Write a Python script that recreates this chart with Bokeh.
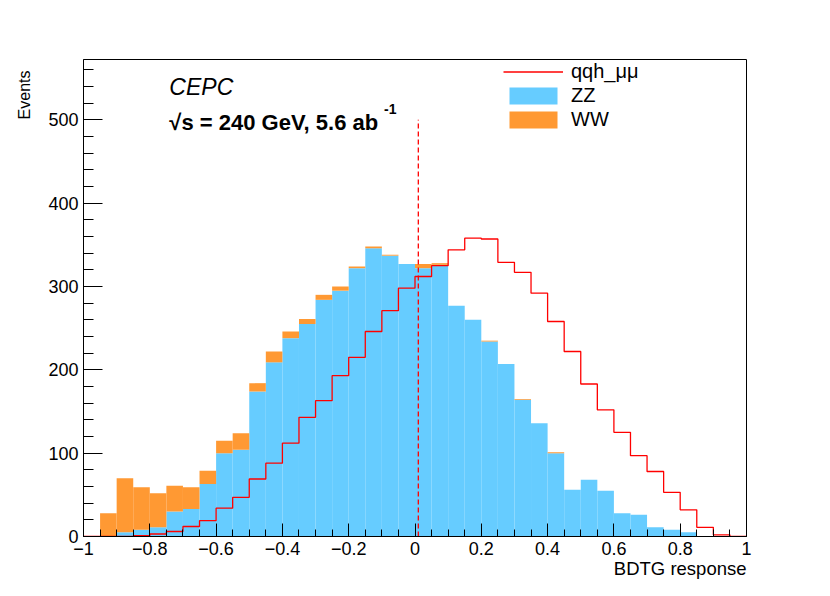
import numpy as np
from bokeh.plotting import figure
from bokeh.models import Label, Legend, LegendItem, FixedTicker, Range1d, Title
from bokeh.embed import file_html
from bokeh.resources import INLINE

# ---------------- data ----------------
x_min, x_max, n_bins = -1.0, 1.0, 40

zz = [0, 0, 5, 8, 11, 30, 33, 63, 100, 104,
      174, 209, 238, 255, 284, 295, 322, 346, 337, 327,
      322, 326, 277, 260, 234, 207, 164, 136, 100, 56,
      68, 55, 28, 26, 11, 8, 5, 0, 0, 0]
ww = [0, 28, 65, 51, 41, 31, 26, 16, 15, 20,
      10, 13, 8, 6, 6, 5, 2, 2, 1, 0,
      5, 2, 0, 0, 1, 0, 1, 0, 1, 0,
      0, 0, 0, 0, 0, 0, 0, 0, 0, 0]
qqh = [0, 0, 0, 1, 3, 6, 12, 19, 34, 47,
       69, 88, 112, 143, 163, 193, 215, 246, 271, 298,
       312, 325, 344, 358, 357, 329, 317, 292, 258, 222,
       183, 152, 125, 97, 78, 53, 32, 11, 2, 0]
cut_value = 0.01
cut_top = 500

x_tick_values = [-1, -0.8, -0.6, -0.4, -0.2, 0, 0.2, 0.4, 0.6, 0.8, 1]
x_tick_labels = ["\u22121", "\u22120.8", "\u22120.6", "\u22120.4", "\u22120.2",
                 "0", "0.2", "0.4", "0.6", "0.8", "1"]
x_minor_step = 0.05
y_tick_values = [0, 100, 200, 300, 400, 500]
y_minor_step = 20
y_max = 572.4

FONT = "Liberation Sans"

# ---------------- figure ----------------
p = figure(width=814, height=580, output_backend="svg", toolbar_location=None,
           x_range=Range1d(x_min, x_max), y_range=Range1d(0, y_max),
           min_border_left=82, min_border_right=68,
           min_border_top=59, min_border_bottom=44)
p.grid.visible = False
p.outline_line_color = "black"
p.outline_line_width = 1
p.background_fill_color = "white"
p.border_fill_color = "white"

edges = np.linspace(x_min, x_max, n_bins + 1)
zz_a = np.array(zz, dtype=float)
ww_a = np.array(ww, dtype=float)
qqh_a = np.array(qqh, dtype=float)

r_zz = p.quad(left=edges[:-1], right=edges[1:], bottom=0, top=zz_a,
              fill_color="#66ccff", line_color=None)
r_ww = p.quad(left=edges[:-1], right=edges[1:], bottom=zz_a, top=zz_a + ww_a,
              fill_color="#ff9933", line_color=None)
r_qqh = p.step(x=edges, y=np.append(qqh_a, qqh_a[-1]), mode="after",
               line_color="#ff0000", line_width=1.3)
p.segment(x0=[cut_value], y0=[0], x1=[cut_value], y1=[cut_top],
          line_color="#ff0000", line_width=1.3, line_dash="5 3")

# ---------------- axes ----------------
xminor = list(np.round(np.arange(x_min, x_max + 1e-9, x_minor_step), 4))
p.xaxis.ticker = FixedTicker(ticks=x_tick_values, minor_ticks=xminor)
p.xaxis.major_label_overrides = {v: s for v, s in zip(x_tick_values, x_tick_labels)}
yminor = list(range(0, int(y_max) + 1, y_minor_step))
p.yaxis.ticker = FixedTicker(ticks=y_tick_values, minor_ticks=yminor)

for ax in (p.xaxis[0], p.yaxis[0]):
    ax.axis_line_color = "black"
    ax.axis_line_width = 1
    ax.major_tick_line_color = "black"
    ax.minor_tick_line_color = "black"
    ax.major_tick_out = 0
    ax.minor_tick_out = 0
    ax.major_label_text_font = FONT
    ax.major_label_text_font_size = "18px"
    ax.major_label_text_color = "black"
    ax.major_label_standoff = 5

p.xaxis.major_tick_in = 13
p.xaxis.minor_tick_in = 7
p.yaxis.major_tick_in = 19
p.yaxis.minor_tick_in = 10

# axis titles (ROOT style, end aligned)
p.add_layout(Title(text="BDTG response", align="right", vertical_align="top",
                   standoff=0, offset=0, text_font=FONT, text_font_size="18.5px",
                   text_font_style="normal", text_color="black"), "below")
p.add_layout(Title(text="Events", align="right", vertical_align="bottom",
                   standoff=26, offset=11, text_font=FONT, text_font_size="16px",
                   text_font_style="normal", text_color="black"), "left")

# annotations
p.add_layout(Label(x=-0.741, y=539.2, text="CEPC", text_font=FONT,
                   text_font_size="23px", text_font_style="italic",
                   text_baseline="alphabetic", text_color="black"))
p.add_layout(Label(x=-0.741, y=497.2, text="\u221As = 240 GeV, 5.6 ab", text_font=FONT,
                   text_font_size="22px", text_font_style="bold",
                   text_baseline="alphabetic", text_color="black"))
p.add_layout(Label(x=-0.0934, y=513.3, text="-1", text_font=FONT,
                   text_font_size="14px", text_font_style="bold",
                   text_baseline="alphabetic", text_color="black"))

legend = Legend(items=[LegendItem(label="qqh_\u03bc\u03bc", renderers=[r_qqh]),
                       LegendItem(label="ZZ", renderers=[r_zz]),
                       LegendItem(label="WW", renderers=[r_ww])],
                location=(420, 405), glyph_width=60, glyph_height=21,
                label_height=24, label_standoff=8, spacing=0, padding=0, margin=0,
                border_line_alpha=0, background_fill_alpha=0,
                label_text_font=FONT, label_text_font_size="20px",
                label_text_color="black")
p.add_layout(legend)

open("out.html", "w").write(file_html(p, INLINE))
